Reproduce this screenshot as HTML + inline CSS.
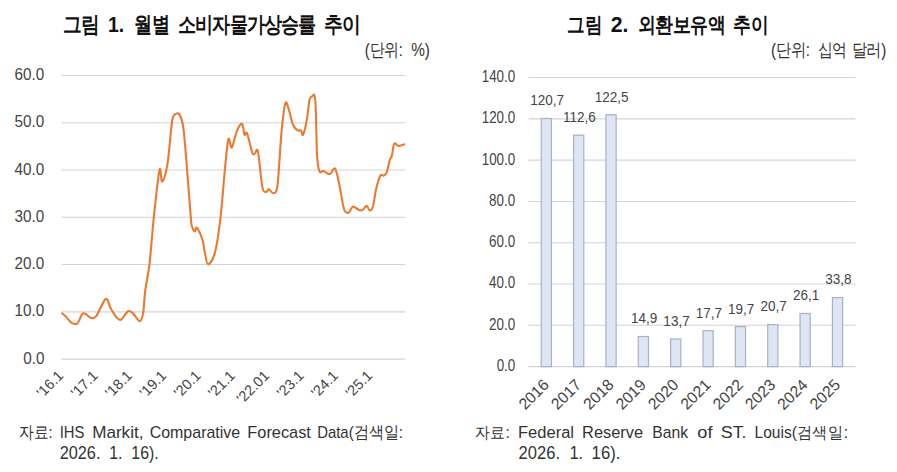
<!DOCTYPE html>
<html><head><meta charset="utf-8"><style>
html,body{margin:0;padding:0;background:#fff;width:897px;height:472px;overflow:hidden}
svg{display:block}
text{font-family:"Liberation Sans", sans-serif}
</style></head><body>
<svg width="897" height="472" viewBox="0 0 897 472">
<text transform="matrix(0.9139 0 0 1.0757 62.76 32.40)" font-size="20" font-weight="bold" fill="#111" textLength="40.00" lengthAdjust="spacingAndGlyphs">그림</text>
<text transform="matrix(0.9714 0 0 1.0757 107.99 32.40)" font-size="20" font-weight="bold" fill="#111" textLength="16.68" lengthAdjust="spacingAndGlyphs">1.</text>
<text transform="matrix(0.8959 0 0 1.0757 134.28 32.40)" font-size="20" font-weight="bold" fill="#111" textLength="40.00" lengthAdjust="spacingAndGlyphs">월별</text>
<text transform="matrix(0.8609 0 0 1.0757 177.94 32.40)" font-size="20" font-weight="bold" fill="#111" textLength="160.00" lengthAdjust="spacingAndGlyphs">소비자물가상승률</text>
<text transform="matrix(0.9186 0 0 1.0757 323.88 32.40)" font-size="20" font-weight="bold" fill="#111" textLength="40.00" lengthAdjust="spacingAndGlyphs">추이</text>
<text transform="matrix(0.9000 0 0 1.0595 567.17 32.16)" font-size="20" font-weight="bold" fill="#111" textLength="40.00" lengthAdjust="spacingAndGlyphs">그림</text>
<text transform="matrix(1.0621 0 0 1.0595 610.70 32.16)" font-size="20" font-weight="bold" fill="#111" textLength="16.68" lengthAdjust="spacingAndGlyphs">2.</text>
<text transform="matrix(0.8800 0 0 1.0595 637.60 32.16)" font-size="20" font-weight="bold" fill="#111" textLength="100.00" lengthAdjust="spacingAndGlyphs">외환보유액</text>
<text transform="matrix(0.9076 0 0 1.0595 733.29 32.16)" font-size="20" font-weight="bold" fill="#111" textLength="40.00" lengthAdjust="spacingAndGlyphs">추이</text>
<text transform="matrix(0.9714 0 0 1.1930 364.83 56.32)" font-size="15" font-weight="normal" fill="#333" textLength="39.16" lengthAdjust="spacingAndGlyphs">(단위:</text>
<text transform="matrix(1.0235 0 0 1.1930 411.19 56.32)" font-size="15" font-weight="normal" fill="#333" textLength="18.34" lengthAdjust="spacingAndGlyphs">%)</text>
<text transform="matrix(0.9932 0 0 1.1930 771.01 56.32)" font-size="15" font-weight="normal" fill="#333" textLength="39.16" lengthAdjust="spacingAndGlyphs">(단위:</text>
<text transform="matrix(0.9667 0 0 1.1930 817.88 56.32)" font-size="15" font-weight="normal" fill="#333" textLength="30.00" lengthAdjust="spacingAndGlyphs">십억</text>
<text transform="matrix(0.9891 0 0 1.1930 851.67 56.32)" font-size="15" font-weight="normal" fill="#333" textLength="35.00" lengthAdjust="spacingAndGlyphs">달러)</text>
<text transform="matrix(0.9235 0 0 1.0468 18.78 438.04)" font-size="16" font-weight="normal" fill="#333" textLength="36.45" lengthAdjust="spacingAndGlyphs">자료:</text>
<text transform="matrix(0.9265 0 0 1.0468 59.71 438.04)" font-size="16" font-weight="normal" fill="#333" textLength="26.67" lengthAdjust="spacingAndGlyphs">IHS</text>
<text transform="matrix(1.0696 0 0 1.0468 92.16 438.04)" font-size="16" font-weight="normal" fill="#333" textLength="48.00" lengthAdjust="spacingAndGlyphs">Markit,</text>
<text transform="matrix(0.9983 0 0 1.0468 149.65 438.04)" font-size="16" font-weight="normal" fill="#333" textLength="90.70" lengthAdjust="spacingAndGlyphs">Comparative</text>
<text transform="matrix(1.0213 0 0 1.0468 247.32 438.04)" font-size="16" font-weight="normal" fill="#333" textLength="62.24" lengthAdjust="spacingAndGlyphs">Forecast</text>
<text transform="matrix(0.9360 0 0 1.0468 317.13 438.04)" font-size="16" font-weight="normal" fill="#333" textLength="91.57" lengthAdjust="spacingAndGlyphs">Data(검색일:</text>
<text transform="matrix(1.0184 0 0 1.1234 59.64 459.32)" font-size="16" font-weight="normal" fill="#333" textLength="40.04" lengthAdjust="spacingAndGlyphs">2026.</text>
<text transform="matrix(0.9953 0 0 1.1234 109.26 459.32)" font-size="16" font-weight="normal" fill="#333" textLength="13.34" lengthAdjust="spacingAndGlyphs">1.</text>
<text transform="matrix(0.9880 0 0 1.1234 131.36 459.32)" font-size="16" font-weight="normal" fill="#333" textLength="27.57" lengthAdjust="spacingAndGlyphs">16).</text>
<text transform="matrix(0.9588 0 0 1.0250 474.84 437.94)" font-size="16" font-weight="normal" fill="#333" textLength="36.45" lengthAdjust="spacingAndGlyphs">자료:</text>
<text transform="matrix(1.0346 0 0 1.0250 517.91 437.94)" font-size="16" font-weight="normal" fill="#333" textLength="54.25" lengthAdjust="spacingAndGlyphs">Federal</text>
<text transform="matrix(1.0234 0 0 1.0250 582.12 437.94)" font-size="16" font-weight="normal" fill="#333" textLength="59.58" lengthAdjust="spacingAndGlyphs">Reserve</text>
<text transform="matrix(0.9816 0 0 1.0250 652.37 437.94)" font-size="16" font-weight="normal" fill="#333" textLength="36.47" lengthAdjust="spacingAndGlyphs">Bank</text>
<text transform="matrix(1.1373 0 0 1.0250 697.35 437.94)" font-size="16" font-weight="normal" fill="#333" textLength="13.34" lengthAdjust="spacingAndGlyphs">of</text>
<text transform="matrix(1.1143 0 0 1.0250 720.76 437.94)" font-size="16" font-weight="normal" fill="#333" textLength="23.12" lengthAdjust="spacingAndGlyphs">ST.</text>
<text transform="matrix(0.9737 0 0 1.0250 754.48 437.94)" font-size="16" font-weight="normal" fill="#333" textLength="96.02" lengthAdjust="spacingAndGlyphs">Louis(검색일:</text>
<text transform="matrix(1.0368 0 0 1.1149 518.62 459.22)" font-size="16" font-weight="normal" fill="#333" textLength="40.04" lengthAdjust="spacingAndGlyphs">2026.</text>
<text transform="matrix(0.9953 0 0 1.1149 569.66 459.22)" font-size="16" font-weight="normal" fill="#333" textLength="13.34" lengthAdjust="spacingAndGlyphs">1.</text>
<text transform="matrix(1.0440 0 0 1.1149 591.60 459.22)" font-size="16" font-weight="normal" fill="#333" textLength="27.57" lengthAdjust="spacingAndGlyphs">16).</text>
<line x1="61.5" y1="359.10" x2="405.3" y2="359.10" stroke="#d4d4d4" stroke-width="1.1"/>
<line x1="61.5" y1="311.83" x2="405.3" y2="311.83" stroke="#d4d4d4" stroke-width="1.1"/>
<line x1="61.5" y1="264.56" x2="405.3" y2="264.56" stroke="#d4d4d4" stroke-width="1.1"/>
<line x1="61.5" y1="217.29" x2="405.3" y2="217.29" stroke="#d4d4d4" stroke-width="1.1"/>
<line x1="61.5" y1="170.02" x2="405.3" y2="170.02" stroke="#d4d4d4" stroke-width="1.1"/>
<line x1="61.5" y1="122.75" x2="405.3" y2="122.75" stroke="#d4d4d4" stroke-width="1.1"/>
<line x1="61.5" y1="75.48" x2="405.3" y2="75.48" stroke="#d4d4d4" stroke-width="1.1"/>
<text transform="matrix(1.0179 0 0 1.1349 23.19 363.72)" font-size="15" fill="#454545" textLength="20.86" lengthAdjust="spacingAndGlyphs">0.0</text>
<text transform="matrix(1.0179 0 0 1.1349 14.54 316.45)" font-size="15" fill="#454545" textLength="29.20" lengthAdjust="spacingAndGlyphs">10.0</text>
<text transform="matrix(1.0179 0 0 1.1349 14.54 269.18)" font-size="15" fill="#454545" textLength="29.20" lengthAdjust="spacingAndGlyphs">20.0</text>
<text transform="matrix(1.0179 0 0 1.1349 14.54 221.91)" font-size="15" fill="#454545" textLength="29.20" lengthAdjust="spacingAndGlyphs">30.0</text>
<text transform="matrix(1.0179 0 0 1.1349 14.54 174.64)" font-size="15" fill="#454545" textLength="29.20" lengthAdjust="spacingAndGlyphs">40.0</text>
<text transform="matrix(1.0179 0 0 1.1349 14.54 127.37)" font-size="15" fill="#454545" textLength="29.20" lengthAdjust="spacingAndGlyphs">50.0</text>
<text transform="matrix(1.0179 0 0 1.1349 14.54 80.10)" font-size="15" fill="#454545" textLength="29.20" lengthAdjust="spacingAndGlyphs">60.0</text>
<line x1="528.5" y1="366.60" x2="855.5" y2="366.60" stroke="#d4d4d4" stroke-width="1.1"/>
<line x1="528.5" y1="325.31" x2="855.5" y2="325.31" stroke="#d4d4d4" stroke-width="1.1"/>
<line x1="528.5" y1="284.02" x2="855.5" y2="284.02" stroke="#d4d4d4" stroke-width="1.1"/>
<line x1="528.5" y1="242.73" x2="855.5" y2="242.73" stroke="#d4d4d4" stroke-width="1.1"/>
<line x1="528.5" y1="201.44" x2="855.5" y2="201.44" stroke="#d4d4d4" stroke-width="1.1"/>
<line x1="528.5" y1="160.15" x2="855.5" y2="160.15" stroke="#d4d4d4" stroke-width="1.1"/>
<line x1="528.5" y1="118.86" x2="855.5" y2="118.86" stroke="#d4d4d4" stroke-width="1.1"/>
<line x1="528.5" y1="77.57" x2="855.5" y2="77.57" stroke="#d4d4d4" stroke-width="1.1"/>
<text transform="matrix(0.8917 0 0 1.0884 496.64 371.03)" font-size="15" fill="#454545" textLength="20.86" lengthAdjust="spacingAndGlyphs">0.0</text>
<text transform="matrix(0.8917 0 0 1.0884 489.06 329.74)" font-size="15" fill="#454545" textLength="29.20" lengthAdjust="spacingAndGlyphs">20.0</text>
<text transform="matrix(0.8917 0 0 1.0884 489.06 288.45)" font-size="15" fill="#454545" textLength="29.20" lengthAdjust="spacingAndGlyphs">40.0</text>
<text transform="matrix(0.8917 0 0 1.0884 489.06 247.16)" font-size="15" fill="#454545" textLength="29.20" lengthAdjust="spacingAndGlyphs">60.0</text>
<text transform="matrix(0.8917 0 0 1.0884 489.06 205.87)" font-size="15" fill="#454545" textLength="29.20" lengthAdjust="spacingAndGlyphs">80.0</text>
<text transform="matrix(0.8917 0 0 1.0884 481.71 164.58)" font-size="15" fill="#454545" textLength="37.54" lengthAdjust="spacingAndGlyphs">100.0</text>
<text transform="matrix(0.8917 0 0 1.0884 481.71 123.29)" font-size="15" fill="#454545" textLength="37.54" lengthAdjust="spacingAndGlyphs">120.0</text>
<text transform="matrix(0.8917 0 0 1.0884 481.71 82.00)" font-size="15" fill="#454545" textLength="37.54" lengthAdjust="spacingAndGlyphs">140.0</text>
<path d="M62.20,313.40 C62.85,313.97 64.52,315.22 66.10,316.80 C67.68,318.38 69.83,321.78 71.70,322.90 C73.57,324.02 75.53,324.98 77.30,323.50 C79.07,322.02 80.90,315.58 82.30,314.00 C83.70,312.42 84.22,313.35 85.70,314.00 C87.18,314.65 89.45,317.53 91.20,317.90 C92.95,318.27 93.78,319.35 96.20,316.20 C98.62,313.05 103.28,300.30 105.70,299.00 C108.12,297.70 108.83,305.25 110.70,308.40 C112.57,311.55 115.13,316.03 116.90,317.90 C118.67,319.77 119.45,320.72 121.30,319.60 C123.15,318.48 126.05,312.23 128.00,311.20 C129.95,310.17 131.05,311.73 133.00,313.40 C134.95,315.07 138.02,321.20 139.70,321.20 C141.38,321.20 142.17,318.60 143.10,313.40 C144.03,308.20 144.23,298.20 145.30,290.00 C146.37,281.80 148.08,276.28 149.50,264.20 C150.92,252.12 152.13,233.22 153.80,217.50 C155.47,201.78 158.10,175.88 159.50,169.90 C160.90,163.92 160.87,182.65 162.20,181.60 C163.53,180.55 165.90,173.32 167.50,163.60 C169.10,153.88 170.72,131.32 171.80,123.30 C172.88,115.28 173.22,117.12 174.00,115.50 C174.78,113.88 175.67,113.85 176.50,113.60 C177.33,113.35 178.17,113.02 179.00,114.00 C179.83,114.98 180.73,116.88 181.50,119.50 C182.27,122.12 182.75,122.35 183.60,129.70 C184.45,137.05 185.40,148.97 186.60,163.60 C187.80,178.23 189.92,207.10 190.80,217.50 C191.68,227.90 191.25,223.70 191.90,226.00 C192.55,228.30 193.88,231.02 194.70,231.30 C195.52,231.58 195.50,226.28 196.80,227.70 C198.10,229.12 201.20,235.85 202.50,239.80 C203.80,243.75 203.65,247.33 204.60,251.40 C205.55,255.47 206.43,264.20 208.20,264.20 C209.97,264.20 213.15,259.18 215.20,251.40 C217.25,243.62 218.80,232.07 220.50,217.50 C222.20,202.93 224.07,177.08 225.40,164.00 C226.73,150.92 227.43,141.77 228.50,139.00 C229.57,136.23 230.40,148.75 231.80,147.40 C233.20,146.05 235.20,134.83 236.90,130.90 C238.60,126.97 240.73,123.17 242.00,123.80 C243.27,124.43 243.65,133.10 244.50,134.70 C245.35,136.30 245.82,130.43 247.10,133.40 C248.38,136.37 250.93,149.10 252.20,152.50 C253.47,155.90 253.73,153.92 254.70,153.80 C255.67,153.68 256.73,146.28 258.00,151.80 C259.27,157.32 260.93,180.20 262.30,186.90 C263.67,193.60 265.13,191.58 266.20,192.00 C267.27,192.42 267.43,189.20 268.70,189.40 C269.97,189.60 272.32,194.05 273.80,193.20 C275.28,192.35 276.33,194.27 277.60,184.30 C278.87,174.33 280.12,146.88 281.40,133.40 C282.68,119.92 284.02,107.22 285.30,103.40 C286.58,99.58 287.83,106.98 289.10,110.50 C290.37,114.02 291.50,121.18 292.90,124.50 C294.30,127.82 296.15,129.42 297.50,130.40 C298.85,131.38 300.07,129.68 301.00,130.40 C301.93,131.12 302.12,136.53 303.10,134.70 C304.08,132.87 305.85,125.12 306.90,119.40 C307.95,113.68 308.55,104.22 309.40,100.40 C310.25,96.58 311.02,96.50 312.00,96.50 C312.98,96.50 314.45,90.43 315.30,100.40 C316.15,110.37 316.38,144.43 317.10,156.30 C317.82,168.17 318.55,169.13 319.60,171.60 C320.65,174.07 321.70,170.68 323.40,171.10 C325.10,171.52 327.88,174.53 329.80,174.10 C331.72,173.67 333.42,167.22 334.90,168.50 C336.38,169.78 337.30,175.50 338.70,181.80 C340.10,188.10 342.18,201.33 343.30,206.30 C344.42,211.27 344.52,210.55 345.40,211.60 C346.28,212.65 347.37,213.42 348.60,212.60 C349.83,211.78 351.38,207.33 352.80,206.70 C354.22,206.07 355.85,208.17 357.10,208.80 C358.35,209.43 359.25,210.40 360.30,210.50 C361.35,210.60 362.35,210.18 363.40,209.40 C364.45,208.62 365.53,205.62 366.60,205.80 C367.67,205.98 368.73,210.42 369.80,210.50 C370.87,210.58 371.95,209.83 373.00,206.30 C374.05,202.77 374.87,194.42 376.10,189.30 C377.33,184.18 379.15,177.88 380.40,175.60 C381.65,173.32 382.55,176.13 383.60,175.60 C384.65,175.07 385.65,175.05 386.70,172.40 C387.75,169.75 389.02,162.53 389.90,159.70 C390.78,156.87 391.28,158.05 392.00,155.40 C392.72,152.75 393.13,145.38 394.20,143.80 C395.27,142.22 397.17,145.65 398.40,145.90 C399.63,146.15 400.62,145.55 401.60,145.30 C402.58,145.05 403.85,144.55 404.30,144.40" fill="none" stroke="#ea7a32" stroke-width="2.1" stroke-linejoin="round" stroke-linecap="round"/>
<text transform="translate(63.80 377.00) rotate(-45) translate(-30.25 0)" font-size="14.5" fill="#454545" textLength="30.99" lengthAdjust="spacingAndGlyphs">&#x27;16.1</text>
<text transform="translate(98.13 377.00) rotate(-45) translate(-30.25 0)" font-size="14.5" fill="#454545" textLength="30.99" lengthAdjust="spacingAndGlyphs">&#x27;17.1</text>
<text transform="translate(132.46 377.00) rotate(-45) translate(-30.25 0)" font-size="14.5" fill="#454545" textLength="30.99" lengthAdjust="spacingAndGlyphs">&#x27;18.1</text>
<text transform="translate(166.79 377.00) rotate(-45) translate(-30.25 0)" font-size="14.5" fill="#454545" textLength="30.99" lengthAdjust="spacingAndGlyphs">&#x27;19.1</text>
<text transform="translate(201.12 377.00) rotate(-45) translate(-30.25 0)" font-size="14.5" fill="#454545" textLength="30.99" lengthAdjust="spacingAndGlyphs">&#x27;20.1</text>
<text transform="translate(235.45 377.00) rotate(-45) translate(-30.25 0)" font-size="14.5" fill="#454545" textLength="30.99" lengthAdjust="spacingAndGlyphs">&#x27;21.1</text>
<text transform="translate(269.78 377.00) rotate(-45) translate(-38.50 0)" font-size="14.5" fill="#454545" textLength="39.05" lengthAdjust="spacingAndGlyphs">&#x27;22.01</text>
<text transform="translate(304.11 377.00) rotate(-45) translate(-30.25 0)" font-size="14.5" fill="#454545" textLength="30.99" lengthAdjust="spacingAndGlyphs">&#x27;23.1</text>
<text transform="translate(338.44 377.00) rotate(-45) translate(-30.25 0)" font-size="14.5" fill="#454545" textLength="30.99" lengthAdjust="spacingAndGlyphs">&#x27;24.1</text>
<text transform="translate(372.77 377.00) rotate(-45) translate(-30.25 0)" font-size="14.5" fill="#454545" textLength="30.99" lengthAdjust="spacingAndGlyphs">&#x27;25.1</text>
<rect x="541.23" y="118.48" width="10.20" height="248.17" fill="#dee5f4" stroke="#aab1bf" stroke-width="1.2"/>
<rect x="573.59" y="135.17" width="10.20" height="231.48" fill="#dee5f4" stroke="#aab1bf" stroke-width="1.2"/>
<rect x="605.94" y="114.77" width="10.20" height="251.88" fill="#dee5f4" stroke="#aab1bf" stroke-width="1.2"/>
<rect x="638.29" y="336.54" width="10.20" height="30.11" fill="#dee5f4" stroke="#aab1bf" stroke-width="1.2"/>
<rect x="670.64" y="339.01" width="10.20" height="27.64" fill="#dee5f4" stroke="#aab1bf" stroke-width="1.2"/>
<rect x="703.00" y="330.77" width="10.20" height="35.88" fill="#dee5f4" stroke="#aab1bf" stroke-width="1.2"/>
<rect x="735.35" y="326.65" width="10.20" height="40.00" fill="#dee5f4" stroke="#aab1bf" stroke-width="1.2"/>
<rect x="767.70" y="324.59" width="10.20" height="42.06" fill="#dee5f4" stroke="#aab1bf" stroke-width="1.2"/>
<rect x="800.05" y="313.46" width="10.20" height="53.19" fill="#dee5f4" stroke="#aab1bf" stroke-width="1.2"/>
<rect x="832.41" y="297.59" width="10.20" height="69.06" fill="#dee5f4" stroke="#aab1bf" stroke-width="1.2"/>
<text transform="matrix(0.9654 0 0 0.9800 530.22 105.33)" font-size="14" fill="#454545" textLength="35.04" lengthAdjust="spacingAndGlyphs">120,7</text>
<text transform="matrix(0.9654 0 0 0.9800 562.93 122.03)" font-size="14" fill="#454545" textLength="34.00" lengthAdjust="spacingAndGlyphs">112,6</text>
<text transform="matrix(0.9654 0 0 0.9800 594.80 101.62)" font-size="14" fill="#454545" textLength="35.04" lengthAdjust="spacingAndGlyphs">122,5</text>
<text transform="matrix(0.9654 0 0 0.9800 631.02 323.40)" font-size="14" fill="#454545" textLength="27.25" lengthAdjust="spacingAndGlyphs">14,9</text>
<text transform="matrix(0.9654 0 0 0.9800 663.37 325.87)" font-size="14" fill="#454545" textLength="27.25" lengthAdjust="spacingAndGlyphs">13,7</text>
<text transform="matrix(0.9654 0 0 0.9800 695.72 317.62)" font-size="14" fill="#454545" textLength="27.25" lengthAdjust="spacingAndGlyphs">17,7</text>
<text transform="matrix(0.9654 0 0 0.9800 728.07 313.50)" font-size="14" fill="#454545" textLength="27.25" lengthAdjust="spacingAndGlyphs">19,7</text>
<text transform="matrix(0.9654 0 0 0.9800 760.55 311.44)" font-size="14" fill="#454545" textLength="27.25" lengthAdjust="spacingAndGlyphs">20,7</text>
<text transform="matrix(0.9654 0 0 0.9800 792.90 300.31)" font-size="14" fill="#454545" textLength="27.25" lengthAdjust="spacingAndGlyphs">26,1</text>
<text transform="matrix(0.9654 0 0 0.9800 825.25 284.44)" font-size="14" fill="#454545" textLength="27.25" lengthAdjust="spacingAndGlyphs">33,8</text>
<text transform="translate(549.53 386.20) rotate(-45) translate(-34.50 0)" font-size="15.8" fill="#454545" textLength="35.14" lengthAdjust="spacingAndGlyphs">2016</text>
<text transform="translate(581.89 386.20) rotate(-45) translate(-34.50 0)" font-size="15.8" fill="#454545" textLength="35.14" lengthAdjust="spacingAndGlyphs">2017</text>
<text transform="translate(614.24 386.20) rotate(-45) translate(-34.50 0)" font-size="15.8" fill="#454545" textLength="35.14" lengthAdjust="spacingAndGlyphs">2018</text>
<text transform="translate(646.59 386.20) rotate(-45) translate(-34.50 0)" font-size="15.8" fill="#454545" textLength="35.14" lengthAdjust="spacingAndGlyphs">2019</text>
<text transform="translate(678.94 386.20) rotate(-45) translate(-34.50 0)" font-size="15.8" fill="#454545" textLength="35.14" lengthAdjust="spacingAndGlyphs">2020</text>
<text transform="translate(711.30 386.20) rotate(-45) translate(-34.50 0)" font-size="15.8" fill="#454545" textLength="35.14" lengthAdjust="spacingAndGlyphs">2021</text>
<text transform="translate(743.65 386.20) rotate(-45) translate(-34.50 0)" font-size="15.8" fill="#454545" textLength="35.14" lengthAdjust="spacingAndGlyphs">2022</text>
<text transform="translate(776.00 386.20) rotate(-45) translate(-34.50 0)" font-size="15.8" fill="#454545" textLength="35.14" lengthAdjust="spacingAndGlyphs">2023</text>
<text transform="translate(808.35 386.20) rotate(-45) translate(-34.75 0)" font-size="15.8" fill="#454545" textLength="35.14" lengthAdjust="spacingAndGlyphs">2024</text>
<text transform="translate(840.71 386.20) rotate(-45) translate(-34.50 0)" font-size="15.8" fill="#454545" textLength="35.14" lengthAdjust="spacingAndGlyphs">2025</text>
</svg>
</body></html>
